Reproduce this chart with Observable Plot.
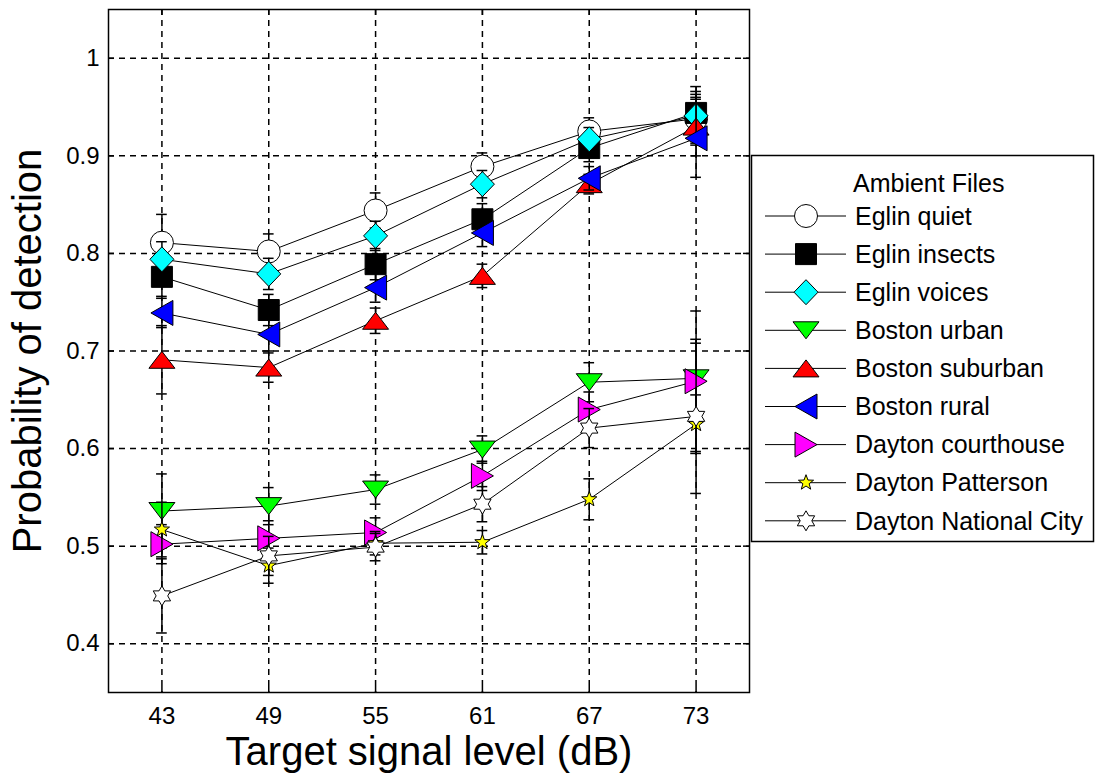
<!DOCTYPE html>
<html>
<head>
<meta charset="utf-8">
<script src="https://cdn.jsdelivr.net/npm/d3@7"></script>
<script src="https://cdn.jsdelivr.net/npm/@observablehq/plot@0.6"></script>
<style>
  html, body { margin: 0; padding: 0; background: #fff; }
  #chart { width: 1096px; height: 779px; }
</style>
</head>
<body>
<div id="chart"></div>
<script>
// Target signal levels (dB) and y-axis ticks
const levels = [43, 49, 55, 61, 67, 73];
const yTicks = [0.4, 0.5, 0.6, 0.7, 0.8, 0.9, 1];

const seriesNames = [
  "Eglin quiet", "Eglin insects", "Eglin voices",
  "Boston urban", "Boston suburban", "Boston rural",
  "Dayton courthouse", "Dayton Patterson", "Dayton National City"
];

// Probability of detection per ambient file, with error-bar half-widths
const eglinQuiet = [0.811, 0.802, 0.844, 0.889, 0.925, 0.938];
const eglinQuietErr = [0.029, 0.018, 0.018, 0.014, 0.014, 0.025];
const eglinInsects = [0.776, 0.742, 0.789, 0.835, 0.908, 0.944];
const eglinInsectsErr = [0.020, 0.016, 0.016, 0.016, 0.014, 0.022];
const eglinVoices = [0.794, 0.779, 0.818, 0.871, 0.917, 0.941];
const eglinVoicesErr = [0.018, 0.016, 0.015, 0.014, 0.012, 0.030];
const bostonUrban = [0.536, 0.541, 0.558, 0.599, 0.668, 0.672];
const bostonUrbanErr = [0.038, 0.019, 0.015, 0.014, 0.020, 0.036];
const bostonSuburban = [0.691, 0.683, 0.731, 0.777, 0.871, 0.930];
const bostonSuburbanErr = [0.035, 0.015, 0.013, 0.012, 0.010, 0.030];
const bostonRural = [0.739, 0.717, 0.765, 0.821, 0.877, 0.918];
const bostonRuralErr = [0.015, 0.017, 0.015, 0.014, 0.012, 0.040];
const daytonCourthouse = [0.502, 0.508, 0.514, 0.572, 0.640, 0.669];
const daytonCourthouseErr = [0.020, 0.018, 0.015, 0.015, 0.018, 0.072];
const daytonPatterson = [0.517, 0.480, 0.503, 0.504, 0.548, 0.625];
const daytonPattersonErr = [0.028, 0.018, 0.012, 0.012, 0.021, 0.030];
const daytonNationalCity = [0.449, 0.490, 0.499, 0.543, 0.621, 0.633];
const daytonNationalCityErr = [0.038, 0.020, 0.014, 0.018, 0.020, 0.079];

const seriesValues = [eglinQuiet, eglinInsects, eglinVoices, bostonUrban, bostonSuburban,
  bostonRural, daytonCourthouse, daytonPatterson, daytonNationalCity];
const seriesErrors = [eglinQuietErr, eglinInsectsErr, eglinVoicesErr, bostonUrbanErr,
  bostonSuburbanErr, bostonRuralErr, daytonCourthouseErr, daytonPattersonErr, daytonNationalCityErr];
const seriesFills = ["#ffffff", "#000000", "#00ffff", "#00ff00", "#ff0000",
  "#0000ff", "#ff00ff", "#ffff00", "#ffffff"];

// Marker shapes; with r = 10 one unit is one pixel
function poly(pts) {
  return {
    draw(ctx, size) {
      const u = Math.sqrt(size / Math.PI) / 10;
      ctx.moveTo(pts[0][0] * u, pts[0][1] * u);
      for (let i = 1; i < pts.length; i++) ctx.lineTo(pts[i][0] * u, pts[i][1] * u);
      ctx.closePath();
    }
  };
}
function starPts(n, outer, inner) {
  const pts = [];
  for (let i = 0; i < 2 * n; i++) {
    const a = -Math.PI / 2 + i * Math.PI / n;
    const rr = i % 2 === 0 ? outer : inner;
    pts.push([rr * Math.cos(a), rr * Math.sin(a)]);
  }
  return pts;
}
const circleShape = {
  draw(ctx, size) {
    const r = 11.5 * Math.sqrt(size / Math.PI) / 10;
    ctx.moveTo(r, 0);
    ctx.arc(0, 0, r, 0, 2 * Math.PI);
  }
};
const shapes = [
  circleShape,
  poly([[-10.5, -10.5], [10.5, -10.5], [10.5, 10.5], [-10.5, 10.5]]),
  poly([[0, -12.5], [12, 0], [0, 12.5], [-12, 0]]),
  poly([[-13, -8.5], [13, -8.5], [0, 8.5]]),
  poly([[-13, 8.5], [13, 8.5], [0, -8.5]]),
  poly([[11, -12.5], [11, 12.5], [-11, 0]]),
  poly([[-11, -12.5], [-11, 12.5], [11, 0]]),
  poly(starPts(5, 8, 3.3)),
  poly(starPts(6, 10, 5.8))
];

const capHalf = 0.3; // half-width of error-bar caps, in dB

const seriesMarks = [];
seriesValues.forEach((vals, s) => {
  const rows = levels.map((x, i) => ({
    x, y: vals[i], lo: vals[i] - seriesErrors[s][i], hi: vals[i] + seriesErrors[s][i]
  }));
  seriesMarks.push(
    Plot.ruleX(rows, {x: "x", y1: "lo", y2: "hi", stroke: "black", strokeWidth: 1.5}),
    Plot.ruleY(rows, {y: "lo", x1: d => d.x - capHalf, x2: d => d.x + capHalf, stroke: "black", strokeWidth: 1.5}),
    Plot.ruleY(rows, {y: "hi", x1: d => d.x - capHalf, x2: d => d.x + capHalf, stroke: "black", strokeWidth: 1.5}),
    Plot.line(rows, {x: "x", y: "y", stroke: "black", strokeWidth: 1}),
    Plot.dot(rows, {x: "x", y: "y", r: 10, symbol: shapes[s], fill: seriesFills[s], stroke: "black", strokeWidth: 1})
  );
});

const xDomain = [40, 76];
const yDomain = [0.35, 1.05];
const tickLenY = (yDomain[1] - yDomain[0]) * 6 / 683;
const tickLenX = (xDomain[1] - xDomain[0]) * 6 / 641;

const chart = Plot.plot({
  width: 1096,
  height: 779,
  marginLeft: 108,
  marginRight: 347,
  marginTop: 9,
  marginBottom: 87,
  x: {domain: xDomain},
  y: {domain: yDomain},
  style: {fontFamily: "'Liberation Sans', Arial, sans-serif", fontSize: "24px", color: "black", background: "white"},
  marks: [
    Plot.gridX(levels, {stroke: "black", strokeOpacity: 1, strokeWidth: 1.5, strokeDasharray: "6,5"}),
    Plot.gridY(yTicks, {stroke: "black", strokeOpacity: 1, strokeWidth: 1.5, strokeDasharray: "6,5"}),
    // inward tick marks on all four sides
    Plot.ruleX(levels, {x: d => d, y1: yDomain[0], y2: yDomain[0] + tickLenY, stroke: "black", strokeWidth: 1.5}),
    Plot.ruleX(levels, {x: d => d, y1: yDomain[1], y2: yDomain[1] - tickLenY, stroke: "black", strokeWidth: 1.5}),
    Plot.ruleY(yTicks, {y: d => d, x1: xDomain[0], x2: xDomain[0] + tickLenX, stroke: "black", strokeWidth: 1.5}),
    Plot.ruleY(yTicks, {y: d => d, x1: xDomain[1], x2: xDomain[1] - tickLenX, stroke: "black", strokeWidth: 1.5}),
    ...seriesMarks,
    Plot.axisX(levels, {tickSize: 0, tickPadding: 14, label: null, fontSize: 24}),
    Plot.axisY(yTicks, {tickSize: 0, tickPadding: 9, label: null, fontSize: 24, tickFormat: d => String(+d.toFixed(1))}),
    Plot.frame({stroke: "black", strokeWidth: 1.5}),
    Plot.text(["Target signal level (dB)"], {frameAnchor: "bottom", dy: 72, fontSize: 40, text: d => d}),
    Plot.text(["Probability of detection"], {frameAnchor: "left", dx: -80, rotate: -90, textAnchor: "middle", fontSize: 40, text: d => d})
  ]
});

document.getElementById("chart").appendChild(chart);

// Legend box on the right
const svg = d3.select(chart);
const lg = svg.append("g")
  .attr("font-family", "'Liberation Sans', Arial, sans-serif")
  .attr("font-size", 25)
  .attr("text-anchor", "start");
lg.append("rect").attr("x", 751.5).attr("y", 155.5).attr("width", 342).attr("height", 386)
  .attr("fill", "white").attr("stroke", "black").attr("stroke-width", 1.5);
lg.append("text").attr("x", 853).attr("y", 183).attr("dy", "0.35em").attr("fill", "black").text("Ambient Files");
seriesNames.forEach((name, i) => {
  const cy = 216 + i * 38.1;
  lg.append("line").attr("x1", 765).attr("x2", 846).attr("y1", cy).attr("y2", cy)
    .attr("stroke", "black").attr("stroke-width", 1);
  lg.append("path").attr("transform", `translate(806,${cy})`)
    .attr("d", d3.symbol(shapes[i], 100 * Math.PI)())
    .attr("fill", seriesFills[i]).attr("stroke", "black").attr("stroke-width", 1);
  lg.append("text").attr("x", 855).attr("y", cy).attr("dy", "0.35em").attr("fill", "black").text(name);
});
</script>
</body>
</html>
